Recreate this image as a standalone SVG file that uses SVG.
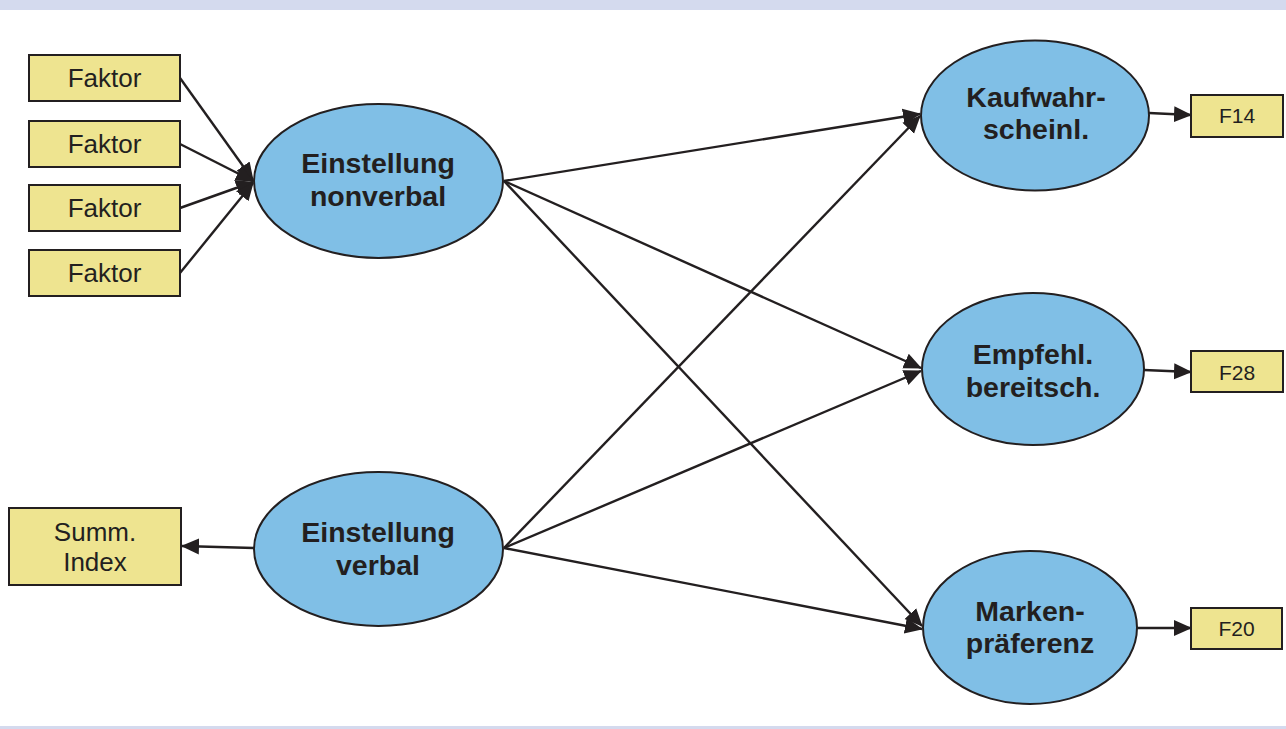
<svg xmlns="http://www.w3.org/2000/svg" width="1286" height="729" viewBox="0 0 1286 729">
<style>
.box{fill:#EEE490;stroke:#231F20;stroke-width:2}
.ell{fill:#80BFE6;stroke:#231F20;stroke-width:2}
.t{font-family:"Liberation Sans",Arial,sans-serif;fill:#231F20;text-anchor:middle}
.tb{font-size:26px}
.tl{font-size:28.5px;font-weight:bold}
.ts{font-size:21px}
.c{stroke:#231F20;stroke-width:2.4;fill:none;marker-end:url(#ah)}
</style>
<defs>
<marker id="ah" markerUnits="userSpaceOnUse" markerWidth="19" markerHeight="19" refX="17" refY="9" orient="auto">
<path d="M0,1 L18,9 L0,17 Z" fill="#231F20"/>
</marker>
</defs>
<rect x="0" y="0" width="1286" height="10" fill="#D4DAEE"/>
<rect x="0" y="726" width="1286" height="3" fill="#D4DAEE"/>
<g id="connectors">
<line class="c" x1="180" y1="78" x2="253" y2="180"/>
<line class="c" x1="180" y1="144" x2="253" y2="181"/>
<line class="c" x1="180" y1="208" x2="253" y2="182"/>
<line class="c" x1="180" y1="273" x2="253" y2="183"/>
<line class="c" x1="254" y1="548" x2="182" y2="546"/>
<line class="c" x1="504" y1="181" x2="920" y2="114"/>
<line class="c" x1="504" y1="181" x2="921" y2="368"/>
<line class="c" x1="504" y1="181" x2="922" y2="626"/>
<line class="c" x1="504" y1="548" x2="920" y2="116"/>
<line class="c" x1="504" y1="548" x2="921" y2="371"/>
<line class="c" x1="504" y1="548" x2="922" y2="629"/>
<line class="c" x1="1149" y1="113" x2="1191" y2="115"/>
<line class="c" x1="1144" y1="370" x2="1191" y2="372"/>
<line class="c" x1="1137" y1="628" x2="1191" y2="628"/>
</g>
<g id="faktor1"><rect class="box" x="29" y="55" width="151" height="46"/><text class="t tb" x="104.5" y="87">Faktor</text></g>
<g id="faktor2"><rect class="box" x="29" y="121" width="151" height="46"/><text class="t tb" x="104.5" y="153">Faktor</text></g>
<g id="faktor3"><rect class="box" x="29" y="185" width="151" height="46"/><text class="t tb" x="104.5" y="217">Faktor</text></g>
<g id="faktor4"><rect class="box" x="29" y="250" width="151" height="46"/><text class="t tb" x="104.5" y="282">Faktor</text></g>
<g id="summindex"><rect class="box" x="9" y="508" width="172" height="77"/><text class="t tb" x="95" y="541">Summ.</text><text class="t tb" x="95" y="571">Index</text></g>
<g id="nonverbal"><ellipse class="ell" cx="378.5" cy="181" rx="124.5" ry="77"/><text class="t tl" x="378" y="173">Einstellung</text><text class="t tl" x="378" y="206">nonverbal</text></g>
<g id="verbal"><ellipse class="ell" cx="378.5" cy="549" rx="124.5" ry="77"/><text class="t tl" x="378" y="542">Einstellung</text><text class="t tl" x="378" y="575">verbal</text></g>
<g id="kaufwahr"><ellipse class="ell" cx="1035" cy="115.5" rx="114" ry="75"/><text class="t tl" x="1036" y="107">Kaufwahr-</text><text class="t tl" x="1036" y="139">scheinl.</text></g>
<g id="empfehl"><ellipse class="ell" cx="1033" cy="369" rx="111" ry="76"/><text class="t tl" x="1033" y="364">Empfehl.</text><text class="t tl" x="1033" y="397">bereitsch.</text></g>
<g id="marken"><ellipse class="ell" cx="1030" cy="627.5" rx="107" ry="76.5"/><text class="t tl" x="1030" y="621">Marken-</text><text class="t tl" x="1030" y="653">präferenz</text></g>
<g id="f14"><rect class="box" x="1191" y="95" width="92" height="42"/><text class="t ts" x="1237" y="123">F14</text></g>
<g id="f28"><rect class="box" x="1191" y="351" width="92" height="41"/><text class="t ts" x="1237" y="380">F28</text></g>
<g id="f20"><rect class="box" x="1191" y="608" width="91" height="41"/><text class="t ts" x="1236.5" y="636">F20</text></g>
</svg>
